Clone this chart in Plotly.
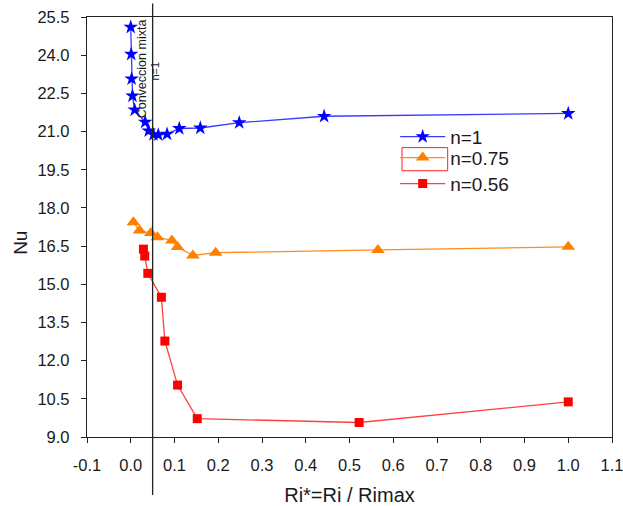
import plotly.graph_objects as go

# ---- data ----
ri_n1 = [0.0, 0.001, 0.002, 0.004, 0.009, 0.033, 0.041, 0.052, 0.063, 0.083, 0.111, 0.159, 0.248, 0.442, 1.0]
nu_n1 = [25.1, 24.04, 23.07, 22.4, 21.85, 21.37, 21.03, 20.88, 20.87, 20.9, 21.12, 21.14, 21.35, 21.6, 21.71]

ri_n075 = [0.006, 0.020, 0.046, 0.061, 0.094, 0.107, 0.142, 0.194, 0.565, 1.0]
nu_n075 = [17.44, 17.11, 17.01, 16.85, 16.72, 16.46, 16.13, 16.24, 16.35, 16.47]

ri_n056 = [0.029, 0.032, 0.039, 0.070, 0.078, 0.107, 0.152, 0.522, 1.0]
nu_n056 = [16.38, 16.11, 15.43, 14.49, 12.77, 11.04, 9.72, 9.57, 10.38]

x_ticks = [-0.1, 0.0, 0.1, 0.2, 0.3, 0.4, 0.5, 0.6, 0.7, 0.8, 0.9, 1.0, 1.1]
x_tick_text = ['-0.1', '0.0', '0.1', '0.2', '0.3', '0.4', '0.5', '0.6', '0.7', '0.8', '0.9', '1.0', '1.1']

ri_limite = 0.05   # vertical line: limite conveccion mixta

fnt = "Arial, Liberation Sans, sans-serif"
negro = '#1a1a1a'

fig = go.Figure()

fig.add_trace(go.Scatter(x=ri_n1, y=nu_n1, mode='lines+markers', name='n=1', legend='legend',
                         line=dict(color='#3a3aff', width=1.3),
                         marker=dict(symbol='star', size=11, color='#0000ff')))
fig.add_trace(go.Scatter(x=ri_n075, y=nu_n075, mode='lines+markers', name='n=0.75', legend='legend2',
                         line=dict(color='#ff8c1a', width=1.3),
                         marker=dict(symbol='triangle-up', size=12, color='#ff8000')))
fig.add_trace(go.Scatter(x=ri_n056, y=nu_n056, mode='lines+markers', name='n=0.56', legend='legend3',
                         line=dict(color='#ff4040', width=1.3),
                         marker=dict(symbol='square', size=9, color='#ff0000')))

# vertical line crossing the whole plot
fig.add_shape(type='line', xref='x', yref='paper', x0=ri_limite, x1=ri_limite, y0=-0.138, y1=1.032,
              line=dict(color='#222222', width=1.3))

# red selection box around the n=0.75 legend symbol
fig.add_shape(type='rect', xref='paper', yref='paper', x0=0.600, x1=0.687, y0=0.634, y1=0.689,
              line=dict(color='#ff2020', width=1))

fig.add_annotation(x=0.026, y=23.45, text='Conveccion mixta', textangle=-90, showarrow=False,
                   font=dict(family=fnt, size=12.5, color=negro))
fig.add_annotation(x=0.055, y=23.39, text='n=1', textangle=-90, showarrow=False,
                   font=dict(family=fnt, size=11, color=negro))

# y title (sits a bit below the axis centre in the original)
fig.add_annotation(xref='paper', yref='paper', x=-0.127, y=0.463, xanchor='center', yanchor='middle',
                   text='Nu', textangle=-90, showarrow=False,
                   font=dict(family=fnt, size=19, color=negro))

eje = dict(showline=True, linecolor='#222222', linewidth=1.3, mirror=True, automargin=False,
           ticks='outside', ticklen=5, tickwidth=1.3, tickcolor='#222222',
           showgrid=False, zeroline=False, ticklabelstandoff=8, ticklabeloverflow='allow',
           tickfont=dict(family=fnt, size=16.5, color=negro),
           minor=dict(ticks='outside', ticklen=3, tickwidth=1.3, tickcolor='#222222', nticks=2))

ley = dict(xanchor='left', yanchor='middle', bgcolor='rgba(0,0,0,0)', itemwidth=45,
           font=dict(family=fnt, size=19, color=negro))

fig.update_layout(
    width=623, height=506,
    plot_bgcolor='white', paper_bgcolor='white',
    margin=dict(l=87, r=11, t=17, b=69),
    xaxis=dict(eje, range=[-0.1, 1.1], tickvals=x_ticks, ticktext=x_tick_text,
               title=dict(text='Ri*=Ri / Rimax', font=dict(family=fnt, size=20, color=negro), standoff=15)),
    yaxis=dict(eje, range=[9.0, 25.5], dtick=1.5, tick0=9, tickformat='.1f'),
    legend=dict(ley, x=0.587, y=0.715),
    legend2=dict(ley, x=0.587, y=0.665),
    legend3=dict(ley, x=0.587, y=0.603),
    showlegend=True,
)

fig.write_html("out.html", config={'displayModeBar': False},
               post_script="document.body.style.margin='0';")
